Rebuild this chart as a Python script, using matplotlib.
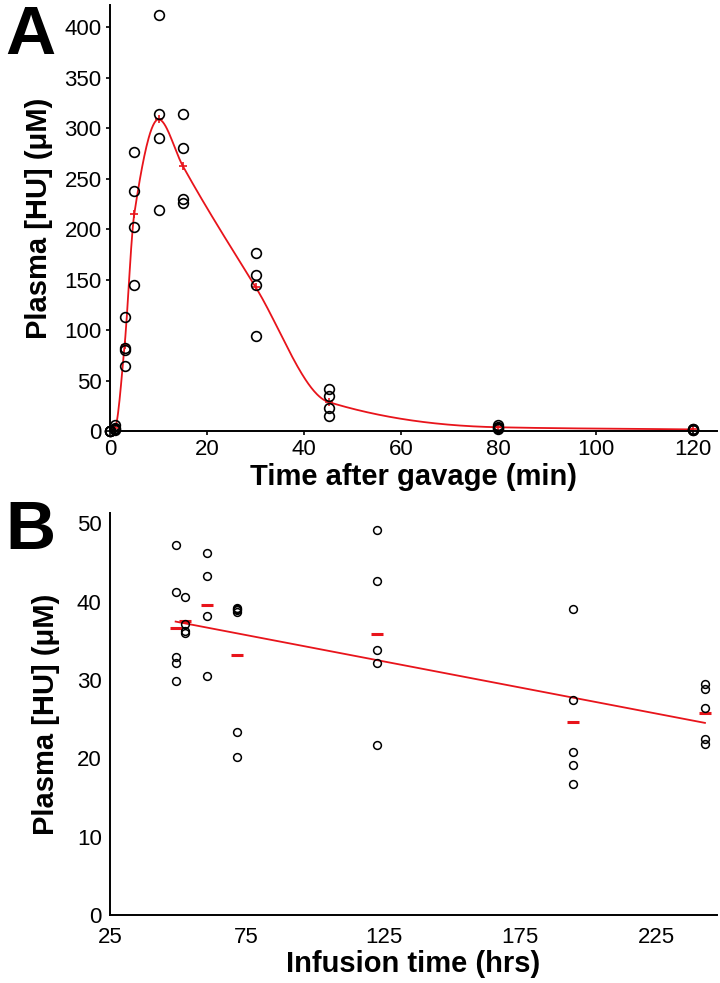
import numpy as np
import matplotlib as mpl
mpl.use('Agg')
import matplotlib.pyplot as plt

plt.rcParams['font.family'] = ['Liberation Sans', 'DejaVu Sans']

# Panel A: plasma HU after gavage (min)
gavage_t = [0, 1, 3, 5, 10, 15, 30, 45, 80, 120]
gavage_vals = [
    [0, 0, 0, 0],
    [6, 2, 1, 3],
    [113, 82, 80, 64],
    [276, 238, 202, 145],
    [412, 314, 290, 219],
    [314, 280, 230, 226],
    [176, 155, 145, 94],
    [42, 35, 23, 15],
    [6, 4, 2, 3],
    [2, 1, 1.5, 2],
]

# Panel B: plasma HU during infusion (hrs)
infusion_t = [49, 52.4, 60.4, 71.3, 122.5, 194.4, 242.6]
infusion_vals = [
    [47.2, 41.2, 32.9, 32.2, 29.9],
    [40.6, 37.2, 36.2, 36.0],
    [46.2, 43.3, 38.1, 30.5],
    [39.2, 39.0, 38.9, 38.7, 23.4, 20.2],
    [49.1, 42.6, 33.8, 32.1, 21.7],
    [39.1, 27.5, 20.8, 19.2, 16.7],
    [29.5, 28.8, 26.4, 22.5, 21.8],
]

RED = '#e8141b'


def pchip(x, y, xs):
    # monotone cubic (Fritsch-Carlson) through the means
    x = np.asarray(x, float)
    y = np.asarray(y, float)
    h = np.diff(x)
    d = np.diff(y) / h
    n = len(x)
    m = np.zeros(n)
    for i in range(1, n - 1):
        if d[i - 1] * d[i] > 0:
            w1 = 2 * h[i] + h[i - 1]
            w2 = h[i] + 2 * h[i - 1]
            m[i] = (w1 + w2) / (w1 / d[i - 1] + w2 / d[i])
    m[0] = d[0]
    m[-1] = d[-1]
    k = np.clip(np.searchsorted(x, xs) - 1, 0, n - 2)
    s = (xs - x[k]) / h[k]
    h00 = 2 * s ** 3 - 3 * s ** 2 + 1
    h10 = s ** 3 - 2 * s ** 2 + s
    h01 = -2 * s ** 3 + 3 * s ** 2
    h11 = s ** 3 - s ** 2
    return h00 * y[k] + h10 * h[k] * m[k] + h01 * y[k + 1] + h11 * h[k] * m[k + 1]


def style(ax, ticklen):
    for s in ['top', 'right']:
        ax.spines[s].set_visible(False)
    for s in ['left', 'bottom']:
        ax.spines[s].set_linewidth(1.4)
    ax.tick_params(direction='out', length=ticklen, width=1.2, labelsize=16, pad=3)


fig = plt.figure(figsize=(7.2, 9.83), dpi=100)

# ---- A ----
ax = fig.add_axes([0.1528, 0.5615, 0.843, 0.4334])
style(ax, 3)
means_a = [np.mean(v) for v in gavage_vals]
for t, v in zip(gavage_t, gavage_vals):
    ax.plot([t] * len(v), v, 'o', mfc='none', mec='black', ms=7, mew=1.2,
            clip_on=False, zorder=3)
ts = np.linspace(0, 120, 800)
ax.plot(ts, pchip(gavage_t, means_a, ts), color=RED, lw=1.3, zorder=2)
ax.plot(gavage_t, means_a, '+', color=RED, ms=6, mew=1.2, zorder=2)
ax.set_xlim(0, 125)
ax.set_ylim(0, 422)
ax.set_xticks(range(0, 121, 20))
ax.set_yticks(range(0, 401, 50))
ax.set_xlabel('Time after gavage (min)', fontsize=21, fontweight='bold', labelpad=2)
ax.set_ylabel('Plasma [HU] (μM)', fontsize=21, fontweight='bold', labelpad=8)
fig.text(0.007, 0.996, 'A', fontsize=50, fontweight='bold', va='top', ha='left')

# ---- B ----
bx = fig.add_axes([0.1528, 0.0692, 0.843, 0.4089])
style(bx, 0)
all_t = []
all_v = []
for t, v in zip(infusion_t, infusion_vals):
    bx.plot([t] * len(v), v, 'o', mfc='none', mec='black', ms=5.6, mew=1.1,
            clip_on=False, zorder=3)
    all_t += [t] * len(v)
    all_v += v
means_b = [np.mean(v) for v in infusion_vals]
bx.plot(infusion_t, means_b, '_', color=RED, ms=8, mew=2.2, zorder=2)
slope, icpt = np.polyfit(all_t, all_v, 1)
lx = np.array([infusion_t[0], infusion_t[-1]])
bx.plot(lx, slope * lx + icpt, color=RED, lw=1.3, zorder=2)
bx.set_xlim(25, 247)
bx.set_ylim(0, 51.3)
bx.set_xticks(range(25, 226, 50))
bx.set_yticks(range(0, 51, 10))
bx.tick_params(axis='y', pad=6)
bx.tick_params(axis='x', pad=9)
bx.set_xlabel('Infusion time (hrs)', fontsize=21, fontweight='bold', labelpad=1)
bx.set_ylabel('Plasma [HU] (μM)', fontsize=21, fontweight='bold', labelpad=12)
fig.text(0.007, 0.492, 'B', fontsize=50, fontweight='bold', va='top', ha='left')

fig.savefig('out.png', dpi=100)
